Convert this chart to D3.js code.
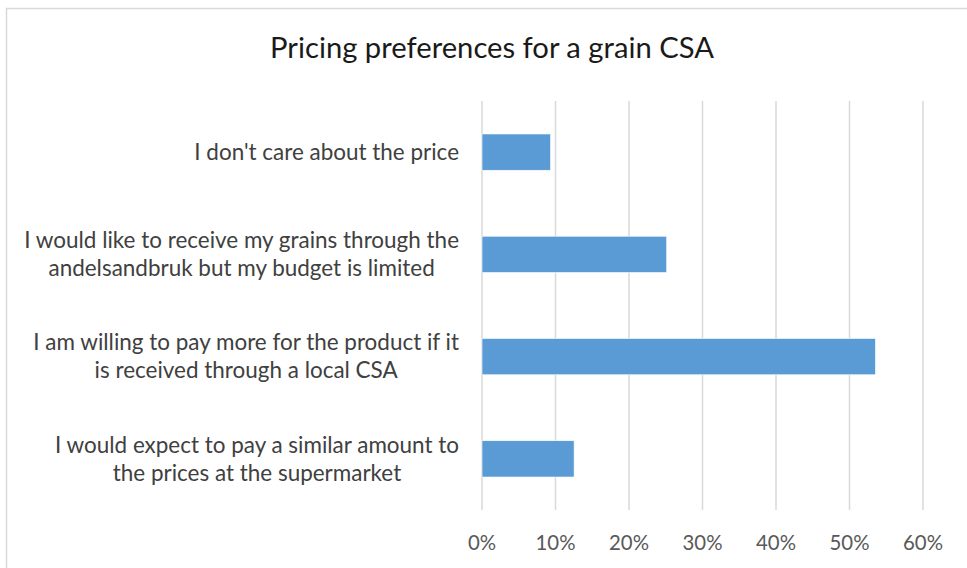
<!DOCTYPE html>
<html>
<head>
<meta charset="utf-8">
<script src="https://cdn.jsdelivr.net/npm/d3@7"></script>
<style>
  body { margin: 0; background: #fff; }
  text { font-family: Lato, "Open Sans", sans-serif; }
</style>
</head>
<body>
<svg id="chart" width="967" height="568"></svg>
<script>
const svg = d3.select('#chart')
const width = 967
const height = 568

// data
const categories = [
  "I don't care about the price",
  "I would like to receive my grains through the\nandelsandbruk but my budget is limited",
  "I am willing to pay more for the product if it\nis received through a local CSA",
  "I would expect to pay a similar amount to\nthe prices at the supermarket"
]
const values = [0.094, 0.252, 0.536, 0.126]
const tickValues = [0, 0.1, 0.2, 0.3, 0.4, 0.5, 0.6]
const title = 'Pricing preferences for a grain CSA'

const barColor = '#5b9bd5'
const gridColor = '#d9d9d9'
const labelColor = '#404040'

const plotLeft = 481.5, plotRight = 922.5, plotTop = 101, plotBottom = 510
const labelRight = 459

// chart frame (cropped in the original)
svg.append('rect')
  .attr('x', 6.5).attr('y', 8.5)
  .attr('width', 1000).attr('height', 600)
  .attr('fill', 'none')
  .attr('stroke', gridColor)
  .attr('stroke-width', 1.5)

const x = d3.scaleLinear().domain([0, 0.6]).range([plotLeft, plotRight])
const y = d3.scaleBand().domain(categories).range([plotTop, plotBottom])
  .paddingInner(0.645).paddingOuter(0.3225)

// helper to fit a font size to a measured width
const fitSize = (txt, target, base) => {
  const t = svg.append('text').attr('font-size', base).text(txt)
  const w = t.node().getComputedTextLength()
  t.remove()
  return base * target / w
}

// title
svg.append('text')
  .attr('x', 492).attr('y', 48)
  .attr('dy', '0.35em')
  .attr('text-anchor', 'middle')
  .attr('font-size', fitSize(title, 444, 24))
  .attr('fill', '#1a1a1a')
  .text(title)

// gridlines
const xAxis = d3.axisBottom(x)
  .tickValues(tickValues)
  .tickSize(-(plotBottom - plotTop))
  .tickPadding(0)
  .tickFormat(d3.format('.0%'))

const gx = svg.append('g')
  .attr('transform', `translate(0, ${plotBottom})`)
  .call(xAxis)
gx.select('.domain').remove()
gx.selectAll('.tick line')
  .attr('stroke', gridColor)
  .attr('stroke-width', 1.5)
const tickSize = fitSize('60%', 40, 18)
gx.selectAll('.tick text')
  .attr('y', 33)
  .attr('dy', '0.35em')
  .attr('fill', '#595959')
  .attr('font-size', tickSize)
  .style('font-family', 'Lato, "Open Sans", sans-serif')

// bars
svg.selectAll('rect.bar')
  .data(values)
  .enter()
  .append('rect')
    .attr('class', 'bar')
    .attr('x', x(0) + 0.5)
    .attr('y', (d, i) => y(categories[i]))
    .attr('width', d => x(d) - x(0) - 0.5)
    .attr('height', y.bandwidth())
    .attr('fill', barColor)
    .attr('stroke', '#fff')
    .attr('stroke-width', 0.6)

// category labels
const labelSize = fitSize('I would like to receive my grains through the', 435, 20)
const lineH = 28

categories.forEach(c => {
  const lines = c.split('\n')
  const widths = lines.map(l => {
    const t = svg.append('text').attr('font-size', labelSize).text(l)
    const w = t.node().getComputedTextLength()
    t.remove()
    return w
  })
  const maxW = d3.max(widths)
  const cx = labelRight - maxW / 2
  const cy = y(c) + y.bandwidth() / 2
  const t = svg.append('text')
    .attr('text-anchor', 'middle')
    .attr('font-size', labelSize)
    .attr('fill', labelColor)
  lines.forEach((l, i) => {
    t.append('tspan')
      .attr('x', cx)
      .attr('y', cy + (i - (lines.length - 1) / 2) * lineH)
      .attr('dy', '0.35em')
      .text(l)
  })
})
</script>
</body>
</html>
